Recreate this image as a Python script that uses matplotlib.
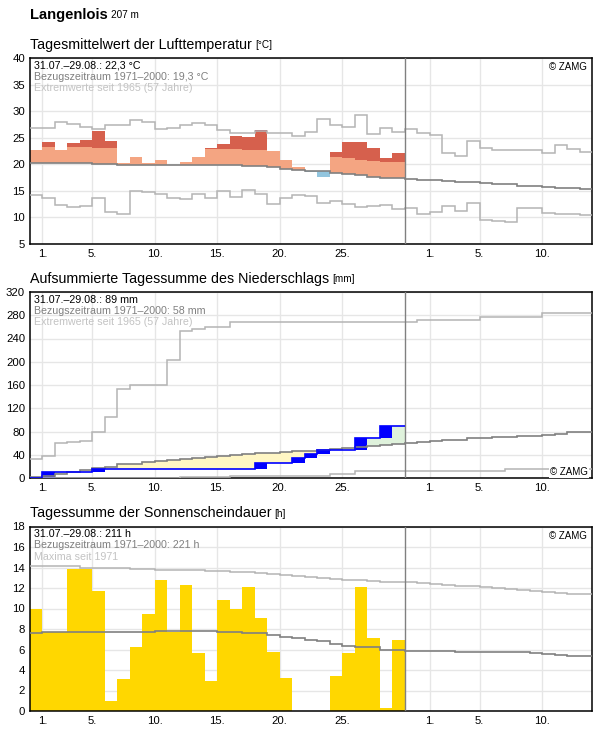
import numpy as np
import matplotlib
matplotlib.use("Agg")
import matplotlib.pyplot as plt

plt.rcParams['font.family'] = ['Liberation Sans', 'DejaVu Sans']

# day index 0 = 31.07., 1 = 01.08., ... 29 = 29.08., 32 = 01.09.
tick_pos = [1, 5, 10, 15, 20, 25, 32, 36, 41]
tick_lab = ["1.", "5.", "10.", "15.", "20.", "25.", "1.", "5.", "10."]

# --- temperature [°C]
temp_obs = [22.6, 24.1, 22.6, 24.0, 24.5, 26.25, 24.3, 20.2, 21.3, 20.2,
            20.75, 19.9, 20.4, 21.4, 23.1, 23.8, 25.4, 25.2, 26.45, 22.5,
            20.8, 19.5, 18.55, 17.6, 22.25, 24.1, 24.1, 23.1, 21.25, 22.2]
temp_mean = [20.3, 20.3, 20.3, 20.3, 20.3, 20.1, 20.1, 19.9, 19.9, 19.9,
             19.9, 19.9, 19.9, 19.8, 19.8, 19.8, 19.8, 19.7, 19.7, 19.5,
             19.2, 19.0, 18.8, 18.75, 18.4, 18.1, 17.9, 17.7, 17.5, 17.5,
             17.3, 17.1, 17.0, 16.8, 16.6, 16.6, 16.4, 16.2, 16.2, 16.0,
             16.0, 15.8, 15.6, 15.6, 15.4]
temp_max = [26.8, 26.8, 28.0, 27.5, 27.1, 26.7, 27.3, 27.3, 28.4, 28.0,
            26.7, 26.9, 27.4, 27.8, 27.4, 26.45, 25.8, 25.8, 26.2, 25.8,
            25.8, 25.3, 26.1, 28.6, 27.4, 27.1, 29.3, 25.75, 26.9, 26.1,
            26.7, 25.9, 25.6, 22.1, 21.6, 24.4, 23.1, 22.75, 22.6, 22.75,
            22.75, 22.2, 23.7, 22.9, 22.4]
temp_min = [14.3, 13.6, 12.25, 11.9, 12.1, 13.75, 11.1, 10.6, 15.0, 14.7,
            14.5, 13.75, 13.4, 14.5, 13.6, 14.9, 13.9, 15.25, 14.5, 12.6,
            13.6, 14.25, 14.1, 12.8, 13.0, 12.6, 11.9, 12.1, 12.25, 11.5,
            11.7, 10.6, 11.1, 12.1, 11.3, 12.8, 9.6, 9.4, 9.1, 11.7,
            11.7, 10.9, 10.6, 10.6, 10.4]

# --- precipitation [mm], daily sums
precip_day = [0, 11.0, 0, 0, 0, 5.3, 0, 0, 0, 0,
              0, 0, 0, 0, 0, 0, 0, 0, 9.6, 0,
              0, 9.2, 6.3, 6.4, 0, 0, 21.0, 0, 20.0, 0]
precip_mean = [1.5, 3.5, 7.5, 10.4, 13.2, 17.3, 19.6, 23.6, 24.7, 27.6,
               28.8, 31.5, 32.8, 34.5, 36.2, 38.0, 39.7, 41.4, 42.6, 43.7,
               44.9, 46.0, 47.2, 48.9, 50.1, 51.8, 53.5, 55.2, 57.0, 58.1,
               60.5, 61.6, 63.3, 66.2, 66.2, 68.0, 68.0, 69.7, 69.7, 72.0,
               72.0, 74.3, 75.4, 78.3, 78.3]
precip_max = [33.4, 37.0, 60.5, 62.5, 64.5, 78.3, 104.7, 153.0, 159.4, 159.4,
              159.4, 202.6, 252.7, 256.7, 259.0, 259.0, 268.2, 268.2, 268.2, 268.2,
              268.2, 268.2, 268.2, 268.2, 268.2, 268.2, 268.2, 268.2, 268.2, 268.2,
              268.2, 271.6, 271.6, 271.6, 271.6, 271.6, 276.8, 276.8, 276.8, 276.8,
              276.8, 283.7, 283.7, 283.7, 283.7]
precip_min = [0, 0, 0, 0, 0, 0, 0, 0.6, 0.6, 0.6,
              0.6, 0.6, 1.7, 1.7, 1.7, 1.7, 3.8, 3.8, 3.8, 3.8,
              3.8, 3.8, 3.8, 3.8, 7.5, 7.5, 11.5, 11.5, 11.5, 11.5,
              11.5, 11.5, 11.5, 11.5, 11.5, 11.5, 11.5, 11.5, 16.0, 16.0,
              16.0, 16.0, 16.0, 16.0, 16.0]

# --- sunshine duration [h]
sun_obs = [10.0, 7.7, 7.7, 13.9, 13.9, 11.7, 1.0, 3.1, 6.2, 9.5,
           12.8, 7.75, 12.3, 5.7, 2.9, 10.8, 10.0, 12.1, 9.1, 5.8,
           3.2, 0, 0, 0, 3.4, 5.7, 12.1, 7.1, 0.3, 6.9]
sun_mean = [7.6, 7.7, 7.7, 7.7, 7.7, 7.7, 7.75, 7.75, 7.75, 7.75,
            7.85, 7.85, 7.85, 7.85, 7.8, 7.75, 7.75, 7.65, 7.6, 7.4,
            7.25, 7.15, 6.96, 6.8, 6.57, 6.34, 6.25, 6.2, 6.0, 6.0,
            5.9, 5.9, 5.85, 5.85, 5.8, 5.8, 5.8, 5.8, 5.8, 5.8,
            5.7, 5.6, 5.5, 5.4, 5.4]
sun_max = [14.1, 14.1, 14.1, 14.1, 14.0, 14.0, 14.0, 14.0, 13.9, 13.85,
           13.8, 13.8, 13.8, 13.75, 13.7, 13.7, 13.6, 13.6, 13.5, 13.4,
           13.3, 13.2, 13.07, 13.0, 12.9, 12.8, 12.75, 12.7, 12.6, 12.6,
           12.55, 12.5, 12.4, 12.3, 12.2, 12.2, 12.1, 12.0, 11.9, 11.8,
           11.7, 11.6, 11.5, 11.4, 11.4]

n_all = len(temp_mean)
edges = np.arange(n_all + 1)
n_obs = len(temp_obs)
days = np.arange(n_obs)

C_MEAN = '#808080'
C_EXT = '#b4b4b4'
C_EXT_TXT = '#c3c3c3'

fig = plt.figure(figsize=(5.96, 7.29), dpi=100)
W, H = 596, 729


def make_ax(top_px, bot_px):
    ax = fig.add_axes([30 / W, 1 - bot_px / H, 562 / W, (bot_px - top_px) / H])
    ax.set_xlim(0, n_all)
    ax.set_xticks(tick_pos)
    ax.set_xticklabels(tick_lab)
    ax.tick_params(length=0, labelsize=8.2, pad=3.5)
    ax.grid(True, color='#e6e6e6', lw=1)
    ax.set_axisbelow(True)
    for s in ax.spines.values():
        s.set_linewidth(1.1)
        s.set_color('black')
    ax.axvline(n_obs, color=C_MEAN, lw=1, zorder=4)
    return ax


def legend(ax, lines):
    for i, (txt, col) in enumerate(lines):
        ax.annotate(txt, xy=(0, 1), xycoords='axes fraction',
                    xytext=(3, -2 - i * 8.0), textcoords='offset points',
                    ha='left', va='top', fontsize=7.7, color=col, zorder=6)


def title(y_px, main, unit):
    t = fig.text(30 / W, 1 - y_px / H, main, fontsize=10.3, ha='left', va='baseline')
    r = fig.canvas.get_renderer()
    bb = t.get_window_extent(renderer=r)
    fig.text(bb.x1 / fig.bbox.width + 3 / W, 1 - y_px / H, unit,
             fontsize=7.2, ha='left', va='baseline')


def zamg(ax, top=True):
    if top:
        ax.annotate('© ZAMG', xy=(1, 1), xycoords='axes fraction', xytext=(-4, -3),
                    textcoords='offset points', ha='right', va='top', fontsize=7, zorder=6)
    else:
        ax.annotate('© ZAMG', xy=(1, 0), xycoords='axes fraction', xytext=(-3, 1),
                    textcoords='offset points', ha='right', va='bottom', fontsize=7, zorder=6,
                    bbox=dict(boxstyle='square,pad=0.15', fc='white', ec='none'))


# header
t = fig.text(30 / W, 1 - 18.5 / H, 'Langenlois', fontsize=10.6, fontweight='bold',
             ha='left', va='baseline')
bb = t.get_window_extent(renderer=fig.canvas.get_renderer())
fig.text(bb.x1 / fig.bbox.width + 3 / W, 1 - 18.5 / H, '207 m', fontsize=7.2,
         ha='left', va='baseline')

# ---------------- panel 1: temperature
title(48.5, 'Tagesmittelwert der Lufttemperatur', '[°C]')
ax1 = make_ax(58, 244)
ax1.set_ylim(5, 40)
ax1.set_yticks(np.arange(5, 41, 5))
for i in days:
    a, m, mx = temp_obs[i], temp_mean[i], temp_max[i]
    if a >= m:
        top1 = min(a, m + 3)
        ax1.bar(i, top1 - m, bottom=m, width=1, align='edge', color='#f4a582', lw=0, zorder=2)
        if a > m + 3:
            top2 = min(a, mx)
            ax1.bar(i, top2 - (m + 3), bottom=m + 3, width=1, align='edge',
                    color='#d6604d', lw=0, zorder=2)
        if a > mx:
            ax1.bar(i, a - mx, bottom=mx, width=1, align='edge', color='#b2182b', lw=0, zorder=2)
    else:
        ax1.bar(i, m - a, bottom=a, width=1, align='edge', color='#92c5de', lw=0, zorder=2)
ax1.stairs(temp_max, edges, baseline=None, color=C_EXT, lw=1.1, zorder=3)
ax1.stairs(temp_min, edges, baseline=None, color=C_EXT, lw=1.1, zorder=3)
ax1.stairs(temp_mean, edges, baseline=None, color=C_MEAN, lw=1.2, zorder=3)
legend(ax1, [('31.07.–29.08.: 22,3 °C', 'black'),
             ('Bezugszeitraum 1971–2000: 19,3 °C', C_MEAN),
             ('Extremwerte seit 1965 (57 Jahre)', C_EXT_TXT)])
zamg(ax1, top=True)

# ---------------- panel 2: precipitation
title(282.5, 'Aufsummierte Tagessumme des Niederschlags', '[mm]')
ax2 = make_ax(292, 478)
ax2.set_ylim(0, 320)
ax2.set_yticks(np.arange(0, 321, 40))
precip_cum = np.cumsum(precip_day)
pm = np.array(precip_mean[:n_obs])
low = np.minimum(precip_cum, pm)
diff = np.abs(precip_cum - pm)
cols = np.where(precip_cum < pm, '#fff6c4', '#dff2dc')
ax2.bar(days, diff, bottom=low, width=1, align='edge', color=cols, lw=0, zorder=2)
pd_arr = np.array(precip_day)
ax2.bar(days, pd_arr, bottom=precip_cum - pd_arr, width=1, align='edge',
        color='#0000ff', lw=0, zorder=3)
ax2.stairs(precip_max, edges, baseline=None, color=C_EXT, lw=1.1, zorder=3)
ax2.stairs(precip_min, edges, baseline=None, color=C_EXT, lw=1.1, zorder=3)
ax2.stairs(precip_mean, edges, baseline=None, color=C_MEAN, lw=1.2, zorder=3)
ax2.stairs(precip_cum, np.arange(n_obs + 1), baseline=None, color='#0000ff', lw=1.2, zorder=4)
legend(ax2, [('31.07.–29.08.: 89 mm', 'black'),
             ('Bezugszeitraum 1971–2000: 58 mm', C_MEAN),
             ('Extremwerte seit 1965 (57 Jahre)', C_EXT_TXT)])
zamg(ax2, top=False)

# ---------------- panel 3: sunshine
title(517, 'Tagessumme der Sonnenscheindauer', '[h]')
ax3 = make_ax(526.5, 711)
ax3.set_ylim(0, 18)
ax3.set_yticks(np.arange(0, 19, 2))
ax3.bar(days, sun_obs, width=1, align='edge', color='#ffd700', lw=0, zorder=2)
ax3.stairs(sun_max, edges, baseline=None, color=C_EXT, lw=1.1, zorder=3)
ax3.stairs(sun_mean, edges, baseline=None, color=C_MEAN, lw=1.2, zorder=3)
legend(ax3, [('31.07.–29.08.: 211 h', 'black'),
             ('Bezugszeitraum 1971–2000: 221 h', C_MEAN),
             ('Maxima seit 1971', C_EXT_TXT)])
zamg(ax3, top=True)

fig.savefig('out.png', dpi=100)
